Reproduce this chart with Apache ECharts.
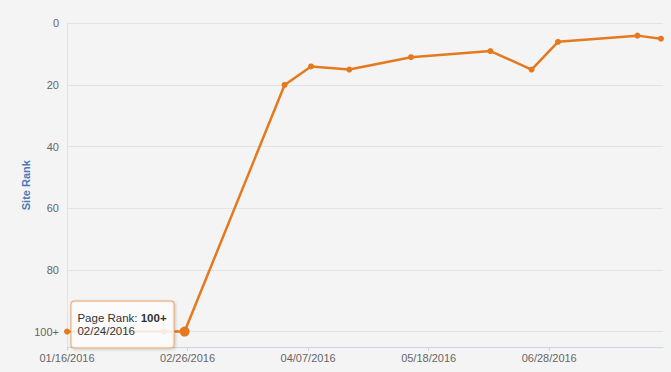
<!DOCTYPE html>
<html>
<head>
<meta charset="utf-8">
<script src="https://cdn.jsdelivr.net/npm/echarts@6/dist/echarts.min.js"></script>
<style>
html,body{margin:0;padding:0;background:#f4f4f4;}
#c{width:671px;height:372px;}
</style>
</head>
<body>
<div id="c"></div>
<script>
// Data
const dates = ['2016-01-16','2016-02-18','2016-02-25','2016-03-30','2016-04-08','2016-04-21','2016-05-12','2016-06-08','2016-06-22','2016-07-01','2016-07-28','2016-08-05'];
const ranks = [100,100,100,20,14,15,11,9,15,6,4,5];
const yTicks = [0,20,40,60,80,100];
const yTickLabels = ['0','20','40','60','80','100+'];
const axisStartDate = '2016-01-16';
const axisEndDate = '2016-08-05';
const tickDays = 41;
const tooltipIndex = 2;
const tooltipName = 'Page Rank';
const tooltipValue = '100+';
const tooltipDate = '02/24/2016';

const DAY = 86400000;
function toUTC(s){const p=s.split('-').map(Number);return Date.UTC(p[0],p[1]-1,p[2]);}
const base = toUTC(axisStartDate);
function dayOff(s){return (toUTC(s)-base)/DAY;}
function fmtDay(v){const d=new Date(base+v*DAY);const mm=String(d.getUTCMonth()+1).padStart(2,'0');const dd=String(d.getUTCDate()).padStart(2,'0');return mm+'/'+dd+'/'+d.getUTCFullYear();}

const font = 'Liberation Sans, Arial, sans-serif';
const orange = '#e5791f';

const seriesData = dates.map((d,i)=>{
  const item = {value:[dayOff(d), ranks[i]]};
  if(i===tooltipIndex){
    item.symbolSize = 10;
    item.label = {
      show:true,
      position:'left',
      distance:6,
      offset:[0,-7],
      formatter:'{a|'+tooltipName+': }{b|'+tooltipValue+'}\n{c|'+tooltipDate+'}',
      backgroundColor:'rgba(255,255,255,0.85)',
      borderColor:'#e8a56e',
      borderWidth:1,
      borderRadius:3,
      padding:[10,7,10,6],
      shadowColor:'rgba(0,0,0,0.18)',
      shadowBlur:3,
      shadowOffsetX:1,
      shadowOffsetY:1,
      rich:{
        a:{fontFamily:font,fontSize:11.5,color:'#333',lineHeight:13,align:'left'},
        b:{fontFamily:font,fontSize:11.5,color:'#333',fontWeight:'bold',lineHeight:13,align:'left'},
        c:{fontFamily:font,fontSize:11.5,color:'#333',lineHeight:13,align:'left'}
      }
    };
  }
  return item;
});

const chart = echarts.init(document.getElementById('c'), null, {renderer:'svg'});
chart.setOption({
  backgroundColor:'#f4f4f4',
  animation:false,
  grid:{left:67,right:8,top:23.3,bottom:25,containLabel:false},
  xAxis:{
    type:'value',
    min:0,
    max:dayOff(axisEndDate)+0.7,
    interval:tickDays,
    axisLine:{onZero:false,lineStyle:{color:'#ccd6eb',width:1}},
    axisTick:{show:true,length:4,lineStyle:{color:'#ccd6eb'}},
    splitLine:{show:false},
    axisLabel:{
      showMaxLabel:false,
      formatter:v=>fmtDay(v),
      color:'#666',fontFamily:font,fontSize:11,margin:5
    }
  },
  yAxis:{
    type:'value',
    inverse:true,
    min:0,
    max:105,
    interval:20,
    name:'Site Rank',
    nameLocation:'middle',
    nameGap:36,
    nameRotate:90,
    nameMoveOverlap:false,
    nameTextStyle:{color:'#4a78b5',fontWeight:'bold',fontSize:11,fontFamily:font},
    axisLine:{show:true,lineStyle:{color:'#e3e3e3'}},
    axisTick:{show:false},
    splitLine:{show:true,lineStyle:{color:'#e3e3e3',width:1}},
    axisLabel:{
      showMaxLabel:false,
      formatter:v=>{const i=yTicks.indexOf(v);return i>=0?yTickLabels[i]:'';},
      color:'#666',fontFamily:font,fontSize:11,margin:8
    }
  },
  series:[{
    type:'line',
    data:seriesData,
    symbol:'circle',
    symbolSize:6,
    lineStyle:{color:orange,width:2.5},
    itemStyle:{color:orange},
    z:3
  }]
});
</script>
</body>
</html>
